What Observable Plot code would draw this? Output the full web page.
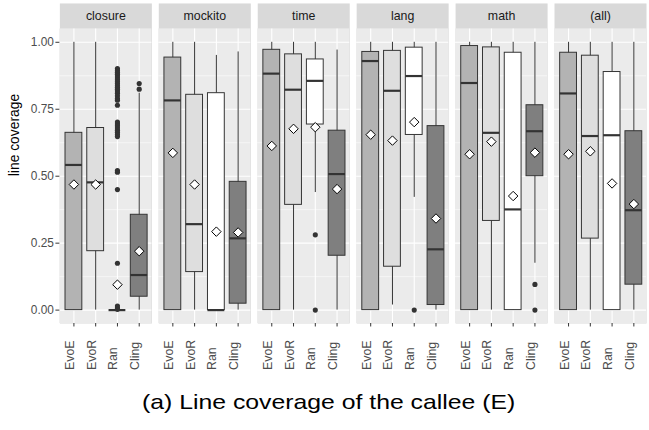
<!DOCTYPE html>
<html>
<head>
<meta charset="utf-8">
<script src="https://cdn.jsdelivr.net/npm/d3@7"></script>
<script src="https://cdn.jsdelivr.net/npm/@observablehq/plot@0.6"></script>
<style>
  body { margin: 0; background: #fff; }
  #wrap { position: relative; width: 649px; height: 430px; overflow: hidden; font-family: "Liberation Sans", Arial, sans-serif; }
  #chart { position: absolute; left: 0; top: 0; }
  #caption { position: absolute; left: 142px; top: 390px; font-size: 21px; line-height: 24px; white-space: nowrap; transform-origin: 0 0; transform: scaleX(1.18); color: #000; }
</style>
</head>
<body>
<div id="wrap">
  <div id="chart"></div>
  <div id="caption">(a) Line coverage of the callee (E)</div>
</div>
<script>
// ---- data (project-major, methods in order EvoE, EvoR, Ran, Cling) ----
const projects = ["closure", "mockito", "time", "lang", "math", "(all)"];
const methods = ["EvoE", "EvoR", "Ran", "Cling"];
const yTicks = [0, 0.25, 0.5, 0.75, 1];
const yMinor = [0.125, 0.375, 0.625, 0.875];

const whiskerLow = [
  0, 0, 0, 0,
  0, 0, 0, 0,
  0, 0, 0.439, 0,
  0, 0.019, 0.421, 0,
  0, 0, 0, 0.175,
  0, 0, 0, 0
];
const q1 = [
  0, 0.22, 0, 0.05,
  0, 0.142, 0, 0.024,
  0, 0.393, 0.693, 0.203,
  0, 0.162, 0.654, 0.019,
  0, 0.333, 0, 0.5,
  0, 0.267, 0, 0.095
];
const median = [
  0.542, 0.477, 0, 0.131,
  0.783, 0.321, 0, 0.268,
  0.883, 0.823, 0.856, 0.508,
  0.93, 0.819, 0.874, 0.227,
  0.848, 0.662, 0.376, 0.668,
  0.809, 0.65, 0.653, 0.373
];
const q3 = [
  0.662, 0.68, 0, 0.356,
  0.943, 0.804, 0.81, 0.479,
  0.972, 0.955, 0.936, 0.67,
  0.964, 0.968, 0.98, 0.687,
  0.986, 0.981, 0.961, 0.765,
  0.961, 0.95, 0.889, 0.668
];
const whiskerHigh = [
  1, 1, 0, 0.81,
  1, 1, 0.951, 0.964,
  1, 1, 1, 0.971,
  1, 1, 1, 1,
  1, 1, 1, 1,
  1, 1, 1, 1
];
const means = [
  0.469, 0.469, 0.095, 0.22,
  0.587, 0.469, 0.293, 0.29,
  0.613, 0.677, 0.683, 0.452,
  0.655, 0.633, 0.702, 0.342,
  0.582, 0.629, 0.426, 0.588,
  0.582, 0.593, 0.473, 0.396
];

// outliers per group
const closureRanOutliers = [0.902, 0.895, 0.888, 0.881, 0.874, 0.867, 0.86, 0.853, 0.846, 0.839, 0.832,
  0.825, 0.818, 0.81, 0.8, 0.79, 0.784, 0.765, 0.702, 0.695, 0.688, 0.68, 0.672, 0.664, 0.656, 0.648,
  0.521, 0.515, 0.45, 0.175, 0.015, 0.008, 0.003];
const closureClingOutliers = [0.846, 0.825];
const timeRanOutliers = [0.281, 0];
const langRanOutliers = [0];
const mathClingOutliers = [0.096, 0];

// ---- styles ----
const fills = ["#b3b3b3", "#dedede", "#ffffff", "#7f7f7f"];
const Y0 = -0.05, Y1 = 1.05, YS = 1.145;

// ---- tables ----
const boxes = [];
projects.forEach((p, i) => methods.forEach((m, j) => {
  const k = i * methods.length + j;
  boxes.push({project: p, method: m, lo: whiskerLow[k], q1: q1[k], med: median[k], q3: q3[k], hi: whiskerHigh[k], mean: means[k]});
}));
const outliers = [];
[["closure", "Ran", closureRanOutliers], ["closure", "Cling", closureClingOutliers],
 ["time", "Ran", timeRanOutliers], ["lang", "Ran", langRanOutliers], ["math", "Cling", mathClingOutliers]]
  .forEach(([p, m, vals]) => vals.forEach(v => outliers.push({project: p, method: m, value: v})));

const chart = Plot.plot({
  width: 656,
  height: 390,
  marginLeft: 59.3,
  marginRight: 2.3,
  marginTop: 3,
  marginBottom: 63.5,
  style: {fontFamily: "'Liberation Sans', Arial, sans-serif", background: "transparent"},
  fx: {domain: projects, paddingInner: 0.0725, paddingOuter: 0, axis: null, label: null},
  x: {domain: methods, paddingInner: 0.25, paddingOuter: 0.225, label: null},
  y: {domain: [Y0, YS], label: null},
  color: {domain: methods, range: fills},
  marks: [
    Plot.frame({fill: "#d9d9d9", stroke: "none"}),
    Plot.rect([0], {y1: Y0, y2: Y1, fill: "#ebebeb"}),
    Plot.ruleY(yMinor, {y: d => d, stroke: "white", strokeWidth: 0.55}),
    Plot.ruleY(yTicks, {y: d => d, stroke: "white", strokeWidth: 1.1}),
    Plot.ruleX(methods, {x: d => d, y1: Y0, y2: Y1, stroke: "white", strokeWidth: 1.1}),
    Plot.ruleX(boxes, {fx: "project", x: "method", y1: "lo", y2: "hi", stroke: "#333", strokeWidth: 1}),
    Plot.barY(boxes, {fx: "project", x: "method", y1: "q1", y2: "q3", fill: "method", stroke: "#333", strokeWidth: 1}),
    Plot.tickY(boxes, {fx: "project", x: "method", y: "med", stroke: "#333", strokeWidth: 2.2}),
    Plot.dot(outliers, {fx: "project", x: "method", y: "value", r: 2.6, fill: "#333", stroke: "none"}),
    Plot.dot(boxes, {fx: "project", x: "method", y: "mean", symbol: "diamond2", r: 4.3, fill: "white", stroke: "black", strokeWidth: 1}),
    Plot.axisY({ticks: yTicks, tickFormat: d3.format(".2f"), tickSize: 4, tickPadding: 2, color: "#4d4d4d", stroke: "#333", fontSize: 12, label: null}),
    Plot.axisX({tickSize: 3.5, tickFormat: () => "", stroke: "#333", label: null}),
    Plot.text(methods, {x: d => d, text: d => d, frameAnchor: "bottom", dy: 47, rotate: -90, textAnchor: "start", fill: "#4d4d4d", fontSize: 12.5}),
    Plot.text(projects, {fx: d => d, y: () => (Y1 + YS) / 2, text: d => d, fill: "#1a1a1a", fontSize: 12.5}),
    Plot.text(["line coverage"], {fx: () => projects[0], y: () => 0.5, text: d => d, frameAnchor: "left", dx: -45.3, rotate: -90, fill: "#000", fontSize: 14})
  ]
});
document.getElementById("chart").appendChild(chart);
</script>
</body>
</html>
